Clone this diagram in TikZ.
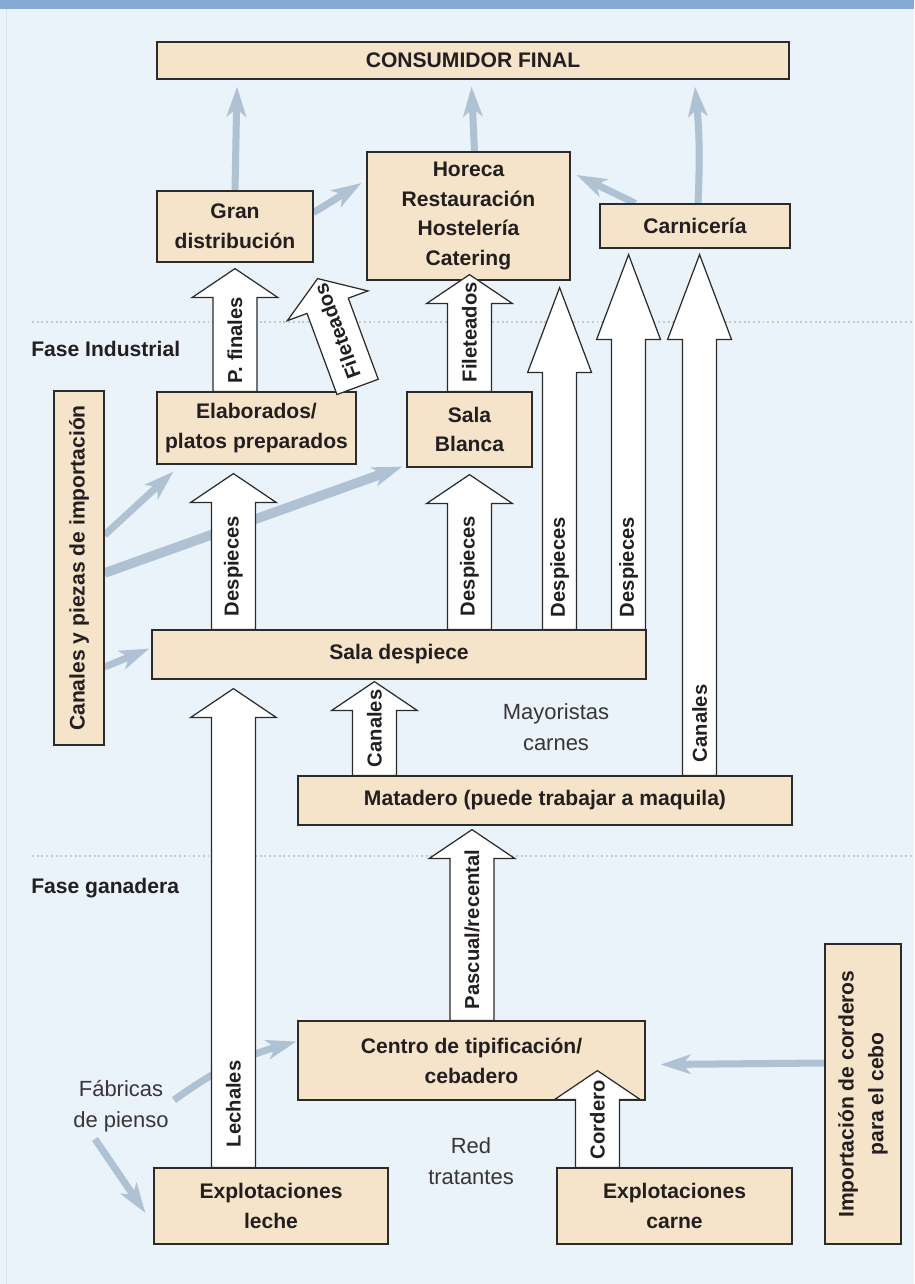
\documentclass[tikz,border=0pt]{standalone}
\usepackage{fontspec}
\setmainfont{Liberation Sans}
\usetikzlibrary{positioning, calc, arrows.meta, backgrounds}
\definecolor{Fondo}{HTML}{EAF2FA}
\definecolor{Banda}{HTML}{85AAD3}
\definecolor{Caja}{HTML}{F5E4C9}
\definecolor{Trazo}{HTML}{2B2B2B}
\definecolor{Flujo}{HTML}{AEC2D4}
\definecolor{Punteo}{HTML}{C3C8CE}
\definecolor{Texto}{HTML}{231F20}
\tikzset{
    caja/.style={rectangle, draw=Trazo, line width=0.7pt, fill=Caja, text=Texto, align=center, inner sep=0pt, font=\fontsize{12}{17}\selectfont\bfseries},
    nota/.style={text=Texto!90, align=center, inner sep=0pt, font=\fontsize{12.5}{18}\selectfont},
    fase/.style={anchor=base west, inner sep=0pt, text=Texto, font=\fontsize{12}{14}\selectfont\bfseries},
    flujo/.style={draw=Flujo, line width=4pt, -{Stealth[length=17pt, width=11pt, inset=4.5pt]}},
    bloque/.style={draw=Trazo, fill=white, line width=0.7pt},
    etiqueta/.style={anchor=west, inner sep=0pt, text=Texto, font=\fontsize{11.5}{13}\selectfont\bfseries},
    punteado/.style={draw=Punteo, line width=1.2pt, dash pattern=on 1.1pt off 1.6pt},
}
% flecha de bloque: base, punta, medio fuste, media cabeza, largo cabeza, separacion del texto, texto
\newcommand{\bloque}[7]{%
    \coordinate (hb) at ($(#2)!#5!(#1)$);
    \draw[bloque] ($(#1)!#3!90:(#2)$) -- ($(hb)!#3!-90:(#1)$) -- ($(hb)!#4!-90:(#1)$) -- (#2)
        -- ($(hb)!#4!90:(#1)$) -- ($(hb)!#3!90:(#1)$) -- ($(#1)!#3!-90:(#2)$) -- cycle;
    \path let \p1=($(#2)-(#1)$), \n1={atan2(\y1,\x1)} in
        node[etiqueta, rotate=\n1] at ($(#1)!#6!(#2)$) {#7};
}
\newcommand{\flecha}[4][0.22cm]{\bloque{#2}{#3}{0.44cm}{0.86cm}{0.58cm}{#1}{#4}}
\newcommand{\flechalarga}[4][0.24cm]{\bloque{#2}{#3}{0.34cm}{0.64cm}{1.7cm}{#1}{#4}}

\begin{document}
\begin{tikzpicture}[x=0.02cm, y=-0.02cm]
    \useasboundingbox (0,0) rectangle (914,1284);

    % --- CAJAS ---
    \node[caja, minimum width=12.64cm, minimum height=0.74cm] (consumidor) at (473,60.5) {CONSUMIDOR FINAL};
    \node[caja, minimum width=3.12cm, minimum height=1.42cm] (gran) at (235,226.5) {Gran\\distribución};
    \node[caja, minimum width=4.06cm, minimum height=2.56cm] (horeca) at (468.5,216) {Horeca\\Restauración\\Hostelería\\Catering};
    \node[caja, minimum width=3.8cm, minimum height=0.88cm] (carniceria) at (695,226) {Carnicería};
    \node[caja, minimum width=3.98cm, minimum height=1.44cm] (elaborados) at (256.5,428) {Elaborados/\\platos preparados};
    \node[caja, minimum width=2.5cm, minimum height=1.5cm] (blanca) at (469.5,429.5) {Sala\\Blanca};
    \node[caja, rotate=90, minimum width=7.08cm, minimum height=1.0cm] (canales) at (79,568) {Canales y piezas de importación};
    \node[caja, minimum width=9.88cm, minimum height=0.98cm] (despiece) at (399,654.5) {Sala despiece};
    \node[caja, minimum width=9.88cm, minimum height=0.98cm] (matadero) at (545,800.5) {Matadero (puede trabajar a maquila)};
    \node[caja, minimum width=6.94cm, minimum height=1.58cm] (centro) at (471.5,1060.5) {Centro de tipificación/\\cebadero};
    \node[caja, minimum width=4.68cm, minimum height=1.52cm] (leche) at (271,1206) {Explotaciones\\leche};
    \node[caja, minimum width=4.7cm, minimum height=1.52cm] (carne) at (674.5,1206) {Explotaciones\\carne};
    \node[caja, rotate=90, minimum width=6.0cm, minimum height=1.52cm] (importacion) at (863,1094) {Importación de corderos\\para el cebo};

    % --- TEXTOS SUELTOS ---
    \node[fase] (industrial) at (31,356) {Fase Industrial};
    \node[fase] (ganadera) at (31,893) {Fase ganadera};
    \node[nota] (mayoristas) at (556,727) {Mayoristas\\carnes};
    \node[nota] (tratantes) at (471,1161) {Red\\tratantes};
    \node[nota] (fabricas) at (121,1106) {Fábricas\\de pienso};

    % --- FLECHAS DE BLOQUE ---
    \coordinate (pf0) at (gran.south |- elaborados.north);
    \coordinate (pf1) at ($(gran.south)+(0,6)$);
    \flecha[0.16cm]{pf0}{pf1}{P. finales}

    \coordinate (fi0) at ($(elaborados.north east)+(1,-4.5)$);
    \coordinate (fi1) at ($(gran.south east)+(4,16)$);
    \flecha[0.18cm]{fi0}{fi1}{Fileteados}

    \coordinate (fr0) at (blanca.north);
    \coordinate (fr1) at ($(horeca.south)+(1,-6)$);
    \flecha[0.18cm]{fr0}{fr1}{Fileteados}

    \coordinate (d10) at ($(despiece.north west)+(82,0)$);
    \coordinate (d11) at ($(d10 |- elaborados.south)+(0,9)$);
    \flecha[0.26cm]{d10}{d11}{Despieces}

    \coordinate (d20) at (blanca.south |- despiece.north);
    \coordinate (d21) at ($(blanca.south)+(0,7)$);
    \flecha[0.26cm]{d20}{d21}{Despieces}

    \coordinate (d30) at ($(despiece.north east)+(-87,0)$);
    \coordinate (d31) at ($(horeca.south east)+(-11,7)$);
    \flechalarga{d30}{d31}{Despieces}

    \coordinate (d40) at ($(despiece.north east)+(-18,0)$);
    \coordinate (d41) at ($(d40 |- carniceria.south)+(0,6)$);
    \flechalarga{d40}{d41}{Despieces}

    \coordinate (c10) at ($(matadero.north east)+(-93,0)$);
    \coordinate (c11) at ($(c10 |- carniceria.south)+(0,6)$);
    \flechalarga[0.26cm]{c10}{c11}{Canales}

    \coordinate (c20) at ($(matadero.north west)+(77,0)$);
    \coordinate (c21) at ($(c20 |- despiece.south)+(0,2)$);
    \flecha[0.16cm]{c20}{c21}{Canales}

    \coordinate (l0) at (d10 |- leche.north);
    \coordinate (l1) at ($(d10 |- despiece.south)+(0,9)$);
    \flecha[0.4cm]{l0}{l1}{Lechales}

    \coordinate (p0) at ($(centro.north)+(0.5,0)$);
    \coordinate (p1) at ($(p0 |- matadero.south)+(0,4)$);
    \flecha{p0}{p1}{Pascual/recental}

    \coordinate (co0) at ($(carne.north west)+(41,0)$);
    \coordinate (co1) at ($(co0 |- centro.south)+(0,-30)$);
    \flecha[0.16cm]{co0}{co1}{Cordero}

    % --- FONDO Y FLUJOS ---
    \begin{scope}[on background layer]
        \fill[Fondo] (0,0) rectangle (914,1284);
        \fill[Banda] (0,0) rectangle (914,9);
        \draw[Fondo!80!Banda, line width=0.9pt] (6.5,9) -- (6.5,1284);
        \draw[punteado] (32,322) -- (914,322);
        \draw[punteado] (32,856) -- (914,856);

        \draw[flujo] (gran.north) -- ($(gran.north |- consumidor.south)+(2,7)$);
        \draw[flujo] ($(horeca.north)+(6,0)$) -- ($(horeca.north |- consumidor.south)+(3,7)$);
        \draw[flujo] ($(carniceria.north)+(3,0)$) to[bend right=4] ($(carniceria.north |- consumidor.south)+(0,7)$);
        \draw[flujo] ($(gran.east)+(0,-14)$) -- ($(horeca.west)+(-5,-33)$);
        \draw[flujo] ($(carniceria.north west)+(36,0)$) -- ($(horeca.east)+(6,-41)$);
        \draw[flujo] ($(canales.south)+(0,-33)$) -- ($(elaborados.south west)+(17,7)$);
        \draw[flujo, line width=5.5pt] ($(canales.south)+(0,5)$) -- ($(blanca.south west)+(-4,-1)$);
        \draw[flujo] ($(canales.south)+(0,99)$) -- ($(despiece.west)+(-2,-6)$);
        \draw[flujo] ($(importacion.north)+(0,-31)$) -- ($(centro.east)+(15,4)$);
        \draw[flujo] ($(fabricas.center)+(53,-6)$) to[bend left=10] ($(centro.west)+(-1,-19)$);
        \draw[flujo] ($(fabricas.center)+(-26,33)$) -- ($(leche.west)+(-8,7)$);
    \end{scope}
\end{tikzpicture}
\end{document}
